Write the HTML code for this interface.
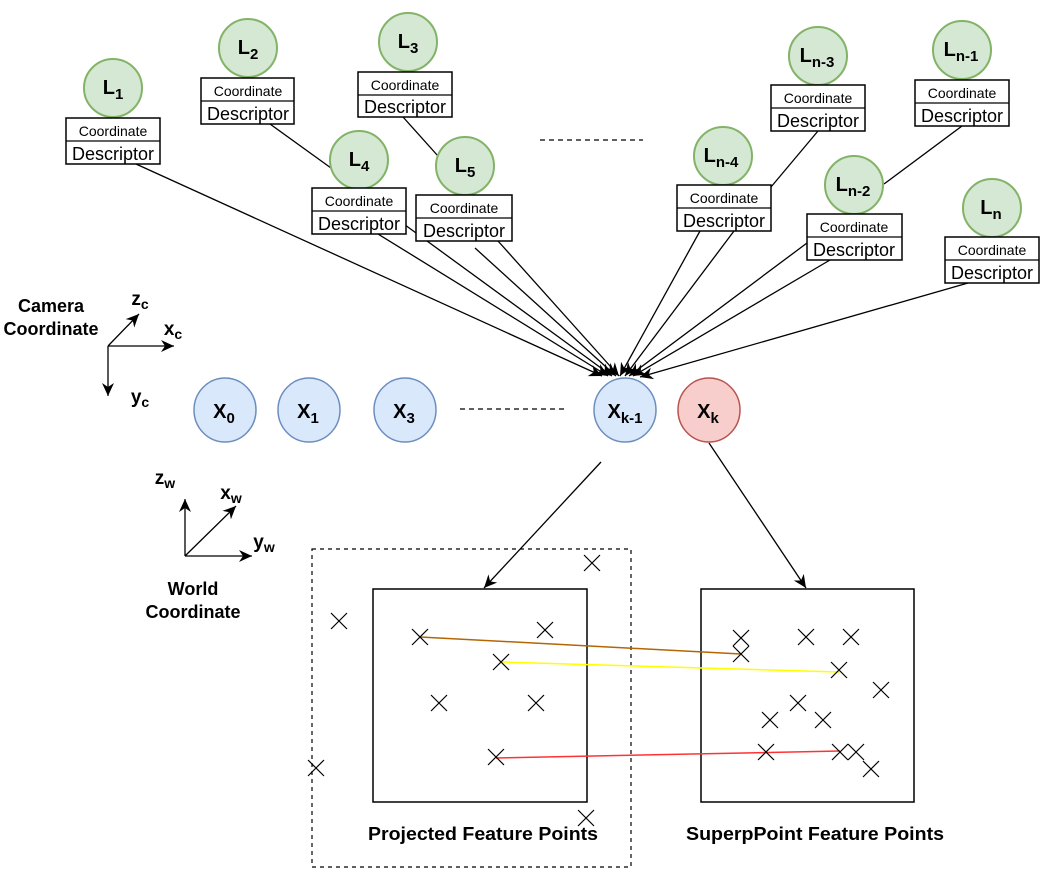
<!DOCTYPE html>
<html><head><meta charset="utf-8"><style>
html,body{margin:0;padding:0;background:#fff;}
svg{display:block;font-family:"Liberation Sans",Arial,sans-serif;}
.c{fill:#d5e8d4;stroke:#82b366;stroke-width:2}
.b{fill:#fff;stroke:#000;stroke-width:1.5}
.ct{font-size:14px;text-anchor:middle}
.dt{font-size:18px;text-anchor:middle}
.lt{font-size:20px;font-weight:bold;text-anchor:middle}
.ln{stroke:#000;stroke-width:1.3;fill:none}
.x{stroke:#000;stroke-width:1.2}
.bt{font-size:18px;font-weight:bold;text-anchor:middle}
.ax{font-size:19px;font-weight:bold;text-anchor:middle}
</style></head><body>
<svg width="1054" height="875" viewBox="0 0 1054 875" xmlns="http://www.w3.org/2000/svg">
<defs><marker id="a" markerWidth="14" markerHeight="14" refX="13" refY="6" orient="auto" markerUnits="userSpaceOnUse"><path d="M0,0 L13,6 L0,12 L4,6 Z" fill="#000"/></marker></defs>
<line class="ln" x1="270" y1="124" x2="331" y2="168"/>
<line class="ln" x1="403" y1="117" x2="438" y2="156"/>
<line class="ln" x1="818" y1="131" x2="771" y2="187"/>
<line class="ln" x1="962" y1="126" x2="884" y2="184"/>
<g class="ln" marker-end="url(#a)">
<line x1="136" y1="164" x2="602" y2="376"/>
<line x1="378" y1="234" x2="608" y2="376"/>
<line x1="401" y1="222" x2="612" y2="376"/>
<line x1="475" y1="248" x2="616" y2="376"/>
<line x1="498" y1="241" x2="619" y2="376"/>
<line x1="700" y1="231" x2="620" y2="376"/>
<line x1="734" y1="231" x2="625" y2="376"/>
<line x1="807" y1="243" x2="629" y2="376"/>
<line x1="830" y1="260" x2="633" y2="376"/>
<line x1="968" y1="283" x2="640" y2="377"/>
</g>
<g>
<circle class="c" cx="113" cy="88" r="29"/><text class="lt" x="113" y="94">L<tspan font-size="15" dy="5">1</tspan></text>
<rect class="b" x="66" y="118" width="94" height="46"/><line class="ln" x1="66" y1="141" x2="160" y2="141"/>
<text class="ct" x="113" y="136">Coordinate</text><text class="dt" x="113" y="160">Descriptor</text>

<circle class="c" cx="248" cy="48" r="29"/><text class="lt" x="248" y="54">L<tspan font-size="15" dy="5">2</tspan></text>
<rect class="b" x="201" y="78" width="93" height="46"/><line class="ln" x1="201" y1="101" x2="294" y2="101"/>
<text class="ct" x="248" y="96">Coordinate</text><text class="dt" x="248" y="120">Descriptor</text>

<circle class="c" cx="408" cy="42" r="29"/><text class="lt" x="408" y="48">L<tspan font-size="15" dy="5">3</tspan></text>
<rect class="b" x="358" y="72" width="94" height="45"/><line class="ln" x1="358" y1="95" x2="452" y2="95"/>
<text class="ct" x="405" y="90">Coordinate</text><text class="dt" x="405" y="113">Descriptor</text>

<circle class="c" cx="359" cy="160" r="29"/><text class="lt" x="359" y="166">L<tspan font-size="15" dy="5">4</tspan></text>
<rect class="b" x="312" y="188" width="94" height="46"/><line class="ln" x1="312" y1="211" x2="406" y2="211"/>
<text class="ct" x="359" y="206">Coordinate</text><text class="dt" x="359" y="230">Descriptor</text>

<circle class="c" cx="465" cy="166" r="29"/><text class="lt" x="465" y="172">L<tspan font-size="15" dy="5">5</tspan></text>
<rect class="b" x="416" y="195" width="96" height="46"/><line class="ln" x1="416" y1="218" x2="512" y2="218"/>
<text class="ct" x="464" y="213">Coordinate</text><text class="dt" x="464" y="237">Descriptor</text>

<circle class="c" cx="723" cy="156" r="29"/><text class="lt" x="721" y="162">L<tspan font-size="15" dy="5">n-4</tspan></text>
<rect class="b" x="677" y="185" width="94" height="46"/><line class="ln" x1="677" y1="208" x2="771" y2="208"/>
<text class="ct" x="724" y="203">Coordinate</text><text class="dt" x="724" y="227">Descriptor</text>

<circle class="c" cx="818" cy="56" r="29"/><text class="lt" x="817" y="62">L<tspan font-size="15" dy="5">n-3</tspan></text>
<rect class="b" x="771" y="85" width="94" height="46"/><line class="ln" x1="771" y1="108" x2="865" y2="108"/>
<text class="ct" x="818" y="103">Coordinate</text><text class="dt" x="818" y="127">Descriptor</text>

<circle class="c" cx="962" cy="50" r="29"/><text class="lt" x="961" y="56">L<tspan font-size="15" dy="5">n-1</tspan></text>
<rect class="b" x="915" y="80" width="94" height="46"/><line class="ln" x1="915" y1="103" x2="1009" y2="103"/>
<text class="ct" x="962" y="98">Coordinate</text><text class="dt" x="962" y="122">Descriptor</text>

<circle class="c" cx="854" cy="185" r="29"/><text class="lt" x="853" y="191">L<tspan font-size="15" dy="5">n-2</tspan></text>
<rect class="b" x="807" y="214" width="95" height="46"/><line class="ln" x1="807" y1="237" x2="902" y2="237"/>
<text class="ct" x="854" y="232">Coordinate</text><text class="dt" x="854" y="256">Descriptor</text>

<circle class="c" cx="992" cy="208" r="29"/><text class="lt" x="991" y="214">L<tspan font-size="15" dy="5">n</tspan></text>
<rect class="b" x="945" y="237" width="94" height="46"/><line class="ln" x1="945" y1="260" x2="1039" y2="260"/>
<text class="ct" x="992" y="255">Coordinate</text><text class="dt" x="992" y="279">Descriptor</text>
</g>
<line x1="540" y1="140" x2="643" y2="140" stroke="#000" stroke-width="1.2" stroke-dasharray="5,4"/>
<line x1="460" y1="409" x2="565" y2="409" stroke="#000" stroke-width="1.2" stroke-dasharray="5,4"/>
<text class="bt" x="51" y="312">Camera</text><text class="bt" x="51" y="335">Coordinate</text>
<g class="ln" marker-end="url(#a)">
<line x1="108" y1="346" x2="174" y2="346"/>
<line x1="108" y1="346" x2="139" y2="314"/>
<line x1="108" y1="346" x2="108" y2="396"/>
<line x1="185" y1="556" x2="185" y2="499"/>
<line x1="185" y1="556" x2="236" y2="506"/>
<line x1="185" y1="556" x2="252" y2="556"/>
</g>
<text class="ax" x="140" y="305">z<tspan font-size="14" dy="4">c</tspan></text>
<text class="ax" x="173" y="335">x<tspan font-size="14" dy="4">c</tspan></text>
<text class="ax" x="140" y="403">y<tspan font-size="14" dy="4">c</tspan></text>
<text class="ax" x="165" y="484">z<tspan font-size="14" dy="4">w</tspan></text>
<text class="ax" x="231" y="499">x<tspan font-size="14" dy="4">w</tspan></text>
<text class="ax" x="264" y="548">y<tspan font-size="14" dy="4">w</tspan></text>
<text class="bt" x="193" y="595">World</text><text class="bt" x="193" y="618">Coordinate</text>
<g stroke-width="1.5">
<ellipse cx="225" cy="410" rx="31" ry="32" fill="#dae8fc" stroke="#6c8ebf"/>
<ellipse cx="309" cy="410" rx="31" ry="32" fill="#dae8fc" stroke="#6c8ebf"/>
<ellipse cx="405" cy="410" rx="31" ry="32" fill="#dae8fc" stroke="#6c8ebf"/>
<ellipse cx="625" cy="410" rx="31" ry="32" fill="#dae8fc" stroke="#6c8ebf"/>
<ellipse cx="709" cy="410" rx="31" ry="32" fill="#f8cecc" stroke="#b85450"/>
</g>
<text class="lt" x="224" y="418">X<tspan font-size="15" dy="5">0</tspan></text>
<text class="lt" x="308" y="418">X<tspan font-size="15" dy="5">1</tspan></text>
<text class="lt" x="404" y="418">X<tspan font-size="15" dy="5">3</tspan></text>
<text class="lt" x="625" y="418">X<tspan font-size="15" dy="5">k-1</tspan></text>
<text class="lt" x="708" y="418">X<tspan font-size="15" dy="5">k</tspan></text>
<g class="ln" marker-end="url(#a)">
<line x1="601" y1="462" x2="484" y2="588"/>
<line x1="709" y1="443" x2="806" y2="588"/>
</g>
<rect x="312" y="549" width="319" height="318" fill="none" stroke="#000" stroke-width="1.2" stroke-dasharray="4,4"/>
<rect x="373" y="589" width="214" height="213" fill="none" stroke="#000" stroke-width="1.5"/>
<rect x="701" y="589" width="213" height="213" fill="none" stroke="#000" stroke-width="1.5"/>
<line x1="420" y1="637" x2="741" y2="654" stroke="#b46504" stroke-width="1.5"/>
<line x1="501" y1="662" x2="839" y2="672" stroke="#ffff00" stroke-width="1.5"/>
<line x1="496" y1="758" x2="840" y2="751" stroke="#ff3333" stroke-width="1.5"/>
<g class="x">
<path d="M584,555l16,16M600,555l-16,16"/>
<path d="M331,613l16,16M347,613l-16,16"/>
<path d="M412,629l16,16M428,629l-16,16"/>
<path d="M537,622l16,16M553,622l-16,16"/>
<path d="M493,654l16,16M509,654l-16,16"/>
<path d="M431,695l16,16M447,695l-16,16"/>
<path d="M528,695l16,16M544,695l-16,16"/>
<path d="M488,749l16,16M504,749l-16,16"/>
<path d="M308,760l16,16M324,760l-16,16"/>
<path d="M578,810l16,16M594,810l-16,16"/>
<path d="M733,630l16,16M749,630l-16,16"/>
<path d="M733,646l16,16M749,646l-16,16"/>
<path d="M798,629l16,16M814,629l-16,16"/>
<path d="M843,629l16,16M859,629l-16,16"/>
<path d="M831,662l16,16M847,662l-16,16"/>
<path d="M873,682l16,16M889,682l-16,16"/>
<path d="M762,712l16,16M778,712l-16,16"/>
<path d="M790,695l16,16M806,695l-16,16"/>
<path d="M815,712l16,16M831,712l-16,16"/>
<path d="M758,744l16,16M774,744l-16,16"/>
<path d="M832,744l16,16M848,744l-16,16"/>
<path d="M848,744l16,16M864,744l-16,16"/>
<path d="M863,761l16,16M879,761l-16,16"/>
</g>
<text class="bt" x="483" y="840" textLength="230" lengthAdjust="spacingAndGlyphs">Projected Feature Points</text>
<text class="bt" x="815" y="840" textLength="258" lengthAdjust="spacingAndGlyphs">SuperpPoint Feature Points</text>
</svg>
</body></html>
